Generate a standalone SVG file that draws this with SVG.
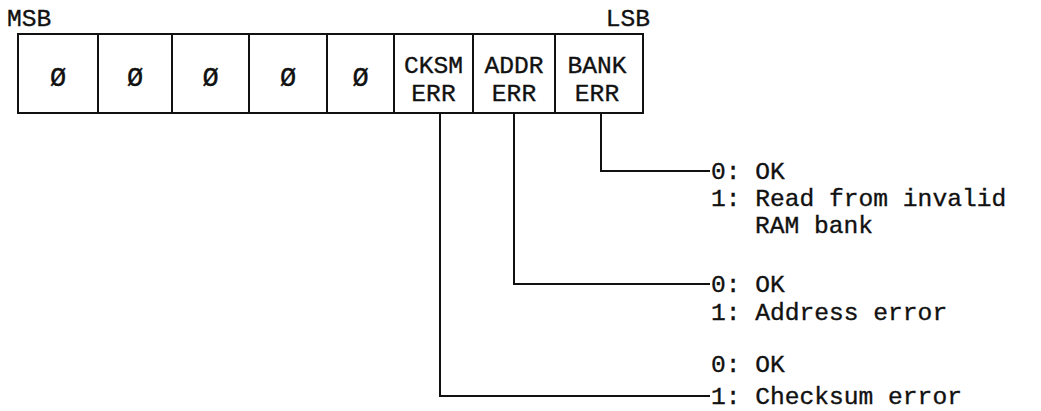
<svg xmlns="http://www.w3.org/2000/svg" width="1041" height="411" viewBox="0 0 1041 411">
<style>
text{font-family:"Liberation Mono","DejaVu Sans Mono",monospace;font-size:24.6px;fill:#111;stroke:#111;stroke-width:0.35}
.c{text-anchor:middle}
.z{font-size:27px}
.box{fill:none;stroke:#111;stroke-width:2}
.ln{fill:none;stroke:#111;stroke-width:2}
</style>
<rect width="1041" height="411" fill="#fff"/>
<g id="labels">
<text x="7" y="26">MSB</text>
<text x="650" y="26" text-anchor="end">LSB</text>
</g>
<g id="register">
<rect class="box" x="18" y="34" width="625" height="79"/>
<g id="bit7"><line class="box" x1="98" y1="34" x2="98" y2="113"/><text class="c z" x="58" y="86">Ø</text></g>
<g id="bit6"><line class="box" x1="172" y1="34" x2="172" y2="113"/><text class="c z" x="135" y="86">Ø</text></g>
<g id="bit5"><line class="box" x1="249" y1="34" x2="249" y2="113"/><text class="c z" x="210.5" y="86">Ø</text></g>
<g id="bit4"><line class="box" x1="327" y1="34" x2="327" y2="113"/><text class="c z" x="288" y="86">Ø</text></g>
<g id="bit3"><line class="box" x1="394" y1="34" x2="394" y2="113"/><text class="c z" x="360.5" y="86">Ø</text></g>
<g id="bit2"><line class="box" x1="473" y1="34" x2="473" y2="113"/><text class="c" x="433.5" y="73">CKSM</text><text class="c" x="433.5" y="101">ERR</text></g>
<g id="bit1"><line class="box" x1="555" y1="34" x2="555" y2="113"/><text class="c" x="514" y="73">ADDR</text><text class="c" x="514" y="101">ERR</text></g>
<g id="bit0"><text class="c" x="597" y="73">BANK</text><text class="c" x="597" y="101">ERR</text></g>
</g>
<g id="connectors">
<polyline class="ln" points="601,113 601,171 710,171"/>
<polyline class="ln" points="514,113 514,284 710,284"/>
<polyline class="ln" points="440,113 440,396 710,396"/>
</g>
<g id="bank-desc">
<text x="711" y="179">0: OK</text>
<text x="711" y="206">1: Read from invalid</text>
<text x="755" y="233">RAM bank</text>
</g>
<g id="addr-desc">
<text x="711" y="292">0: OK</text>
<text x="711" y="320">1: Address error</text>
</g>
<g id="cksm-desc">
<text x="711" y="372">0: OK</text>
<text x="711" y="404">1: Checksum error</text>
</g>
</svg>
